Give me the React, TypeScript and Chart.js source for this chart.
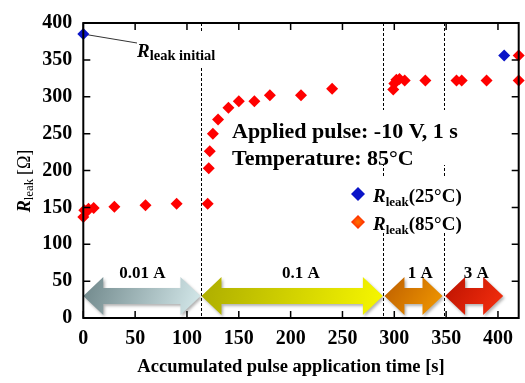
import React, { useEffect, useRef } from 'react';
import { Chart, registerables } from 'chart.js';

Chart.register(...registerables);

const xTickValues = [0, 50, 100, 150, 200, 250, 300, 350, 400];
const yTickValues = [0, 50, 100, 150, 200, 250, 300, 350, 400];
const xMin = 0;
const xMax = 420;
const yMin = 0;
const yMax = 400;

// R_leak measured at 25°C (initial and final)
const r25Time = [0, 406];
const r25Value = [385, 356];

// R_leak measured at 85°C
const r85Time = [0, 1, 3, 5, 10, 30, 60, 90, 120, 121, 122, 125, 130, 140, 150, 165, 180, 210, 240, 299, 300, 302, 305, 310, 330, 360, 365, 389, 420, 420];
const r85Value = [137, 146, 144, 148, 149, 151, 153, 155, 155, 203, 226, 250, 269, 285, 294, 294, 302, 302, 311, 310, 318, 323, 324, 322, 322, 322, 322, 322, 322, 356];

// pulse current stages
const stageBoundaries = [114, 289, 348];
const stageLabels = ['0.01 A', '0.1 A', '1 A', '3 A'];
const stageStart = [0, 114, 290.5, 349];
const stageEnd = [113, 289, 346.5, 405];
const stageLabelTime = [57, 210, 325, 379];
const stageArrowLevel = 30;
const stageColors = [
  ['#6f878a', '#d6eaec'],
  ['#adad00', '#f7f700'],
  ['#bd5e00', '#f39a00'],
  ['#bb1200', '#f8300f'],
];

const annotationLines = ['Applied pulse: -10 V, 1 s', 'Temperature: 85°C'];
const xTitle = 'Accumulated pulse application time [s]';
const initialLabelSub = 'leak initial';
const legendSubs = ['(25°C)', '(85°C)'];

const FAM = '"Liberation Serif", "Times New Roman", serif';

type Part = { t: string; f: string; dy?: number };

function richWidth(ctx: CanvasRenderingContext2D, parts: Part[]) {
  let w = 0;
  for (const p of parts) {
    ctx.font = p.f;
    w += ctx.measureText(p.t).width;
  }
  return w;
}

function drawRich(ctx: CanvasRenderingContext2D, parts: Part[], x: number, y: number) {
  let cx = x;
  for (const p of parts) {
    ctx.font = p.f;
    ctx.fillText(p.t, cx, y + (p.dy || 0));
    cx += ctx.measureText(p.t).width;
  }
}

function diamond(ctx: CanvasRenderingContext2D, cx: number, cy: number, r: number) {
  ctx.beginPath();
  ctx.moveTo(cx - r, cy);
  ctx.lineTo(cx, cy - r);
  ctx.lineTo(cx + r, cy);
  ctx.lineTo(cx, cy + r);
  ctx.closePath();
  ctx.fill();
}

const overlay = {
  id: 'overlay',
  beforeDatasetsDraw(chart: any) {
    const { ctx, chartArea: a, scales } = chart;
    const x = scales.x;
    const y = scales.y;
    ctx.save();

    // dashed stage boundaries
    ctx.strokeStyle = '#000';
    ctx.lineWidth = 1;
    ctx.setLineDash([3, 2]);
    for (const t of stageBoundaries) {
      const px = Math.round(x.getPixelForValue(t)) + 0.5;
      ctx.beginPath();
      ctx.moveTo(px, a.top);
      ctx.lineTo(px, a.bottom);
      ctx.stroke();
    }
    ctx.setLineDash([]);

    // white boxes behind texts
    ctx.fillStyle = '#fff';
    ctx.fillRect(134, 33, 88, 33);
    ctx.fillRect(228, 110, 238, 55);
    ctx.fillRect(345, 178, 122, 54);

    // arrows
    const cy = y.getPixelForValue(stageArrowLevel);
    const hl = 20, hh = 19, sh = 8;
    for (let i = 0; i < stageStart.length; i++) {
      const p0 = x.getPixelForValue(stageStart[i]);
      const p1 = x.getPixelForValue(stageEnd[i]);
      const g = ctx.createLinearGradient(p0, cy - hh, p1, cy + hh);
      g.addColorStop(0, stageColors[i][0]);
      g.addColorStop(1, stageColors[i][1]);
      ctx.save();
      ctx.shadowColor = 'rgba(0,0,0,0.3)';
      ctx.shadowBlur = 3;
      ctx.shadowOffsetX = 1.5;
      ctx.shadowOffsetY = 2;
      ctx.fillStyle = g;
      ctx.beginPath();
      ctx.moveTo(p0, cy);
      ctx.lineTo(p0 + hl, cy - hh);
      ctx.lineTo(p0 + hl, cy - sh);
      ctx.lineTo(p1 - hl, cy - sh);
      ctx.lineTo(p1 - hl, cy - hh);
      ctx.lineTo(p1, cy);
      ctx.lineTo(p1 - hl, cy + hh);
      ctx.lineTo(p1 - hl, cy + sh);
      ctx.lineTo(p0 + hl, cy + sh);
      ctx.lineTo(p0 + hl, cy + hh);
      ctx.closePath();
      ctx.fill();
      ctx.restore();
    }

    ctx.fillStyle = '#000';
    ctx.textBaseline = 'alphabetic';
    ctx.textAlign = 'center';
    ctx.font = `bold 17px ${FAM}`;
    for (let i = 0; i < stageLabels.length; i++) {
      ctx.fillText(stageLabels[i], x.getPixelForValue(stageLabelTime[i]), 278);
    }

    // annotation
    ctx.textAlign = 'left';
    ctx.font = `bold 22px ${FAM}`;
    ctx.fillText(annotationLines[0], 232, 138);
    ctx.fillText(annotationLines[1], 232, 165);

    // R_leak initial label and leader line
    ctx.strokeStyle = '#333';
    ctx.lineWidth = 1;
    ctx.beginPath();
    ctx.moveTo(x.getPixelForValue(r25Time[0]), y.getPixelForValue(r25Value[0]));
    ctx.lineTo(137, 43);
    ctx.stroke();
    drawRich(ctx, [
      { t: 'R', f: `italic bold 19px ${FAM}` },
      { t: initialLabelSub, f: `bold 14.5px ${FAM}`, dy: 3 },
    ], 137, 57);

    // legend
    ctx.fillStyle = '#0a14c8';
    diamond(ctx, 358, 194, 7);
    const rg = ctx.createRadialGradient(358, 222, 1, 358, 222, 7);
    rg.addColorStop(0, '#ff6a00');
    rg.addColorStop(1, '#ff2200');
    ctx.fillStyle = rg;
    diamond(ctx, 358, 222, 7);
    ctx.fillStyle = '#000';
    for (let i = 0; i < 2; i++) {
      drawRich(ctx, [
        { t: 'R', f: `italic bold 19px ${FAM}` },
        { t: 'leak', f: `bold 13px ${FAM}`, dy: 4 },
        { t: legendSubs[i], f: `bold 19px ${FAM}` },
      ], 373, 201.5 + i * 28);
    }

    // axis titles
    ctx.textAlign = 'center';
    ctx.font = `bold 18.5px ${FAM}`;
    ctx.fillText(xTitle, 291, 371.5);

    ctx.save();
    ctx.translate(30, 181);
    ctx.rotate(-Math.PI / 2);
    ctx.textAlign = 'left';
    const yParts: Part[] = [
      { t: 'R', f: `italic bold 18px ${FAM}` },
      { t: 'leak', f: `13px ${FAM}`, dy: 3 },
      { t: '\u2009[\u03A9]', f: `18px ${FAM}` },
    ];
    const w = richWidth(ctx, yParts);
    drawRich(ctx, yParts, -w / 2, 0);
    ctx.restore();

    ctx.restore();
  },
  afterDraw(chart: any) {
    const { ctx, chartArea: a, scales } = chart;
    const x = scales.x;
    const y = scales.y;
    ctx.save();
    ctx.strokeStyle = '#000';
    ctx.lineWidth = 2;
    ctx.strokeRect(a.left, a.top, a.right - a.left, a.bottom - a.top);
    ctx.lineWidth = 1.5;
    const tl = 7;
    ctx.beginPath();
    for (const v of xTickValues) {
      const px = x.getPixelForValue(v);
      ctx.moveTo(px, a.bottom);
      ctx.lineTo(px, a.bottom - tl);
      ctx.moveTo(px, a.top);
      ctx.lineTo(px, a.top + tl);
    }
    for (const v of yTickValues) {
      const py = y.getPixelForValue(v);
      ctx.moveTo(a.left, py);
      ctx.lineTo(a.left + tl, py);
      ctx.moveTo(a.right, py);
      ctx.lineTo(a.right - tl, py);
    }
    ctx.stroke();
    ctx.restore();
  },
};

export default function App() {
  const ref = useRef<HTMLCanvasElement>(null);
  useEffect(() => {
    const tickFont = { family: FAM, size: 20, weight: 'bold' as const };
    const chart = new Chart(ref.current!, {
      type: 'scatter',
      data: {
        datasets: [
          {
            label: 'Rleak(85°C)',
            data: r85Time.map((t, i) => ({ x: t, y: r85Value[i] })),
            pointStyle: 'rectRot',
            pointRadius: 6,
            pointHoverRadius: 6,
            backgroundColor: '#ff0000',
            borderWidth: 0,
            clip: false,
          },
          {
            label: 'Rleak(25°C)',
            data: r25Time.map((t, i) => ({ x: t, y: r25Value[i] })),
            pointStyle: 'rectRot',
            pointRadius: 6,
            pointHoverRadius: 6,
            backgroundColor: '#0a14c8',
            borderWidth: 0,
            clip: false,
          },
        ],
      },
      options: {
        responsive: false,
        animation: false,
        layout: { padding: { top: 22.5, right: 6.3, left: 0, bottom: 0 } },
        plugins: { legend: { display: false }, tooltip: { enabled: false } },
        scales: {
          x: {
            type: 'linear',
            min: xMin,
            max: xMax,
            afterBuildTicks: (s: any) => {
              s.ticks = xTickValues.map((v) => ({ value: v }));
            },
            afterFit: (s: any) => {
              s.height = 65;
            },
            grid: { display: false, drawTicks: false },
            border: { display: false },
            ticks: { padding: 9, font: tickFont, color: '#000', maxRotation: 0, autoSkip: false },
          },
          y: {
            type: 'linear',
            min: yMin,
            max: yMax,
            afterBuildTicks: (s: any) => {
              s.ticks = yTickValues.map((v) => ({ value: v }));
            },
            afterFit: (s: any) => {
              s.width = 83.3;
            },
            grid: { display: false, drawTicks: false },
            border: { display: false },
            ticks: { padding: 11, font: tickFont, color: '#000', autoSkip: false },
          },
        },
      },
      plugins: [overlay],
    });
    return () => chart.destroy();
  }, []);
  return (
    <div style={{ position: 'fixed', left: 0, top: 0, width: 525, height: 383, background: '#fff' }}>
      <canvas ref={ref} width={525} height={383} style={{ display: 'block' }} />
    </div>
  );
}
